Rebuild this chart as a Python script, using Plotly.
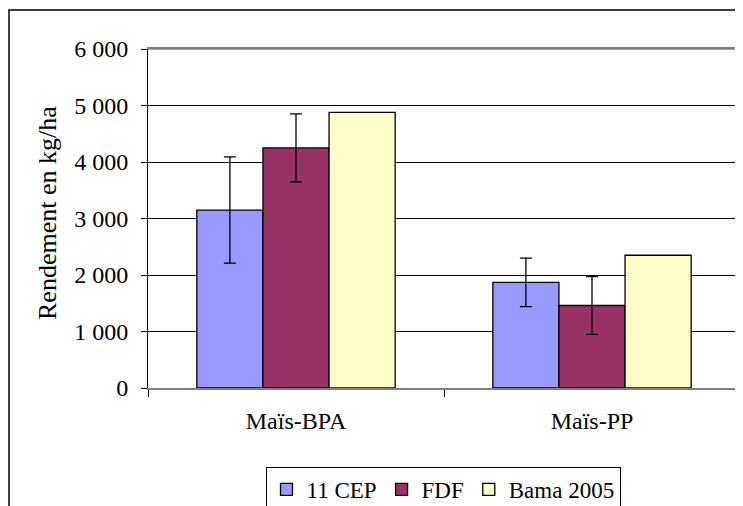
import plotly.graph_objects as go

categories = ["Maïs-BPA", "Maïs-PP"]
series_names = ["11 CEP", "FDF", "Bama 2005"]
cep_values = [3150, 1870]
cep_errors = [940, 430]
fdf_values = [4250, 1460]
fdf_errors = [600, 510]
bama_values = [4880, 2350]
colors = ["#9999FF", "#993366", "#FFFFCC"]
y_ticks = [0, 1000, 2000, 3000, 4000, 5000, 6000]
y_ticktext = ["0", "1 000", "2 000", "3 000", "4 000", "5 000", "6 000"]
y_title = "Rendement en kg/ha"

FONT = "Liberation Serif"
OFF = 8  # page body margin of the browser

fig = go.Figure()
err_style = dict(color="black", thickness=1.3, width=6)
fig.add_trace(go.Bar(name=series_names[0], x=categories, y=cep_values,
                     marker=dict(color=colors[0], line=dict(color="black", width=1.3)),
                     error_y=dict(type="data", array=cep_errors, visible=True, **err_style)))
fig.add_trace(go.Bar(name=series_names[1], x=categories, y=fdf_values,
                     marker=dict(color=colors[1], line=dict(color="black", width=1.3)),
                     error_y=dict(type="data", array=fdf_errors, visible=True, **err_style)))
fig.add_trace(go.Bar(name=series_names[2], x=categories, y=bama_values,
                     marker=dict(color=colors[2], line=dict(color="black", width=1.3))))

W, H = 743, 506
L = 148 - OFF
T = 49 - OFF
R = W - (740 - OFF)
B = H - (388 - OFF)
pw = W - L - R
ph = H - T - B

def px_x(px):
    return (px - OFF - L) / pw

def px_y(py):
    return (H - B - (py - OFF)) / ph

fig.update_layout(
    template="none",
    width=W, height=H,
    margin=dict(l=L, r=R, t=T, b=B, autoexpand=False),
    paper_bgcolor="white", plot_bgcolor="white",
    barmode="group", bargap=0.33, bargroupgap=0,
    font=dict(family=FONT, size=24, color="black"),
    showlegend=True,
    legend=dict(orientation="h", x=px_x(443), xanchor="center", y=px_y(467), yanchor="top",
                bordercolor="black", borderwidth=1, bgcolor="white",
                font=dict(family=FONT, size=23, color="black"),
                traceorder="normal", itemwidth=30, tracegroupgap=0),
    xaxis=dict(showline=True, linecolor="#808080", linewidth=1.5, mirror=True,
               ticks="outside", tickson="boundaries", ticklen=7, tickcolor="black",
               showgrid=False, zeroline=False, ticklabelstandoff=10,
               tickfont=dict(family=FONT, size=24, color="black")),
    yaxis=dict(range=[0, 6000], tickvals=y_ticks, ticktext=y_ticktext,
               showline=True, linecolor="black", linewidth=1, mirror=False,
               ticks="outside", ticklen=6, tickcolor="black",
               showgrid=True, gridcolor="black", gridwidth=1, zeroline=False,
               tickfont=dict(family=FONT, size=24, color="black"), ticklabelstandoff=8),
)

fig.add_annotation(text=y_title, textangle=-90, xref="paper", yref="paper",
                   x=px_x(47), y=px_y(322), xanchor="center", yanchor="bottom",
                   showarrow=False, font=dict(family=FONT, size=26, color="black"))

# plot area right/top grey frame
fig.add_shape(type="line", xref="paper", yref="paper", x0=0, x1=1, y0=1, y1=1,
              line=dict(color="#808080", width=1.5))
fig.add_shape(type="line", xref="paper", yref="paper", x0=1, x1=1, y0=0, y1=1,
              line=dict(color="#808080", width=1.5))
# outer chart border
fig.add_shape(type="rect", xref="paper", yref="paper",
              x0=px_x(9), x1=px_x(770), y0=px_y(10), y1=px_y(560),
              line=dict(color="black", width=1.5), fillcolor="rgba(0,0,0,0)", layer="below")

fig.write_html("out.html")
